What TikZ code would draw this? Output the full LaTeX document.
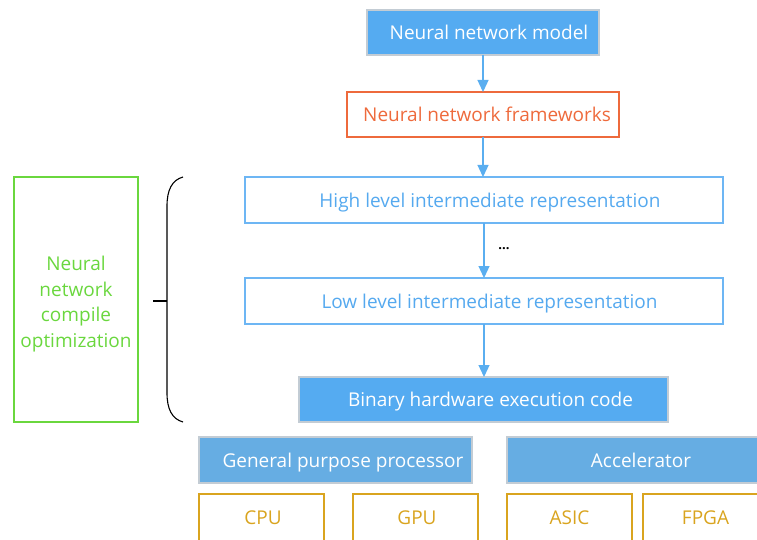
\documentclass[tikz,border=0pt]{standalone}
\usepackage{fontspec}
\setmainfont{Open Sans}
\usetikzlibrary{arrows.meta}
\definecolor{solidblue}{HTML}{55ABF1}
\definecolor{mutedblue}{HTML}{66ADE3}
\definecolor{edgegrey}{HTML}{C3CCD4}
\definecolor{irblue}{HTML}{6DB6F4}
\definecolor{irtext}{HTML}{55A9EF}
\definecolor{frameorange}{HTML}{EE6A3C}
\definecolor{optgreen}{HTML}{6AD73E}
\definecolor{hwgold}{HTML}{D9A41F}
\definecolor{linkblue}{HTML}{5AAEF0}
\tikzset{
  box/.style={rectangle, inner sep=0pt, outer sep=0pt, line width=1.2pt,
    font=\fontsize{19}{23}\selectfont, text height=16.5pt, text depth=2pt},
  % pushes the label to the right of the box centre
  indent/.style={execute at begin node={\hspace*{#1}}},
  solidbox/.style={box, fill=solidblue, draw=edgegrey, text=white},
  mutedbox/.style={box, fill=mutedblue, draw=edgegrey, text=white},
  framebox/.style={box, draw=frameorange, text=frameorange},
  irbox/.style={box, draw=irblue, text=irtext},
  hwbox/.style={box, draw=hwgold, text=hwgold},
  optbox/.style={rectangle, inner sep=0pt, outer sep=0pt, line width=1.2pt, draw=optgreen},
  opttext/.style={inner sep=0pt, text=optgreen, align=center,
    font=\fontsize{19}{25.5}\selectfont},
  link/.style={draw=linkblue, line width=1.3pt,
    -{Triangle[width=11pt,length=12pt]}, fill=linkblue},
}
\begin{document}
\begin{tikzpicture}[x=1pt,y=-1pt]
\useasboundingbox (0,0) rectangle (757,540);
\clip (0,0) rectangle (757,540);

% main compile flow
\node[solidbox, indent=12pt, minimum width=232pt, minimum height=45pt] (model) at (483,32.5) {Neural network model};
\node[framebox, indent=8pt, minimum width=272pt, minimum height=45pt] (frame) at (483,114.5) {Neural network frameworks};
\node[irbox, indent=12pt, minimum width=478pt, minimum height=46pt] (high) at (484,200) {High level intermediate representation};
\node[irbox, indent=11pt, minimum width=478pt, minimum height=46pt] (low) at (484,301) {Low level intermediate representation};
\node[solidbox, indent=14pt, minimum width=369pt, minimum height=45pt] (binary) at (483.5,399.5) {Binary hardware execution code};
\node[font=\bfseries\fontsize{13}{14}\selectfont, inner sep=0pt] (dots) at (504,249) {...};

\draw[link] (model.south -| frame.north) -- (frame.north);
\draw[link] (frame.south) -- (frame.south |- high.north);
\draw[link] (high.south) -- (low.north);
\draw[link] (low.south) -- (low.south |- binary.north);

% hardware targets
\node[mutedbox, indent=15pt, minimum width=273pt, minimum height=46pt] (gpp) at (335.5,460) {General purpose processor};
\node[mutedbox, minimum width=268pt, minimum height=46pt] (acc) at (641,460) {Accelerator};
\node[hwbox, indent=3pt, minimum width=125pt, minimum height=47pt] (cpu) at (261.5,517.5) {CPU};
\node[hwbox, indent=3pt, minimum width=125pt, minimum height=47pt] (gpu) at (415.5,517.5) {GPU};
\node[hwbox, minimum width=125pt, minimum height=47pt] (asic) at (569.5,517.5) {ASIC};
\node[hwbox, minimum width=125pt, minimum height=47pt] (fpga) at (705.5,517.5) {FPGA};

% compile optimization scope
\node[optbox, minimum width=124pt, minimum height=245pt] (opt) at (76,299.5) {};
\node[opttext] (optlabel) at (76,304) {Neural\\network\\compile\\optimization};
\coordinate (bracetop) at (183,177);
\coordinate (bracebot) at (183,422);
\coordinate (bracetip) at (153,301);
\draw[line width=1.1pt, black] (bracetop) .. controls (172,180) and (167,190) .. (167,206)
  -- (167,393) .. controls (167,409) and (172,419) .. (bracebot);
\draw[line width=1.1pt, black] (bracetip) -- (167,301);
\end{tikzpicture}
\end{document}
